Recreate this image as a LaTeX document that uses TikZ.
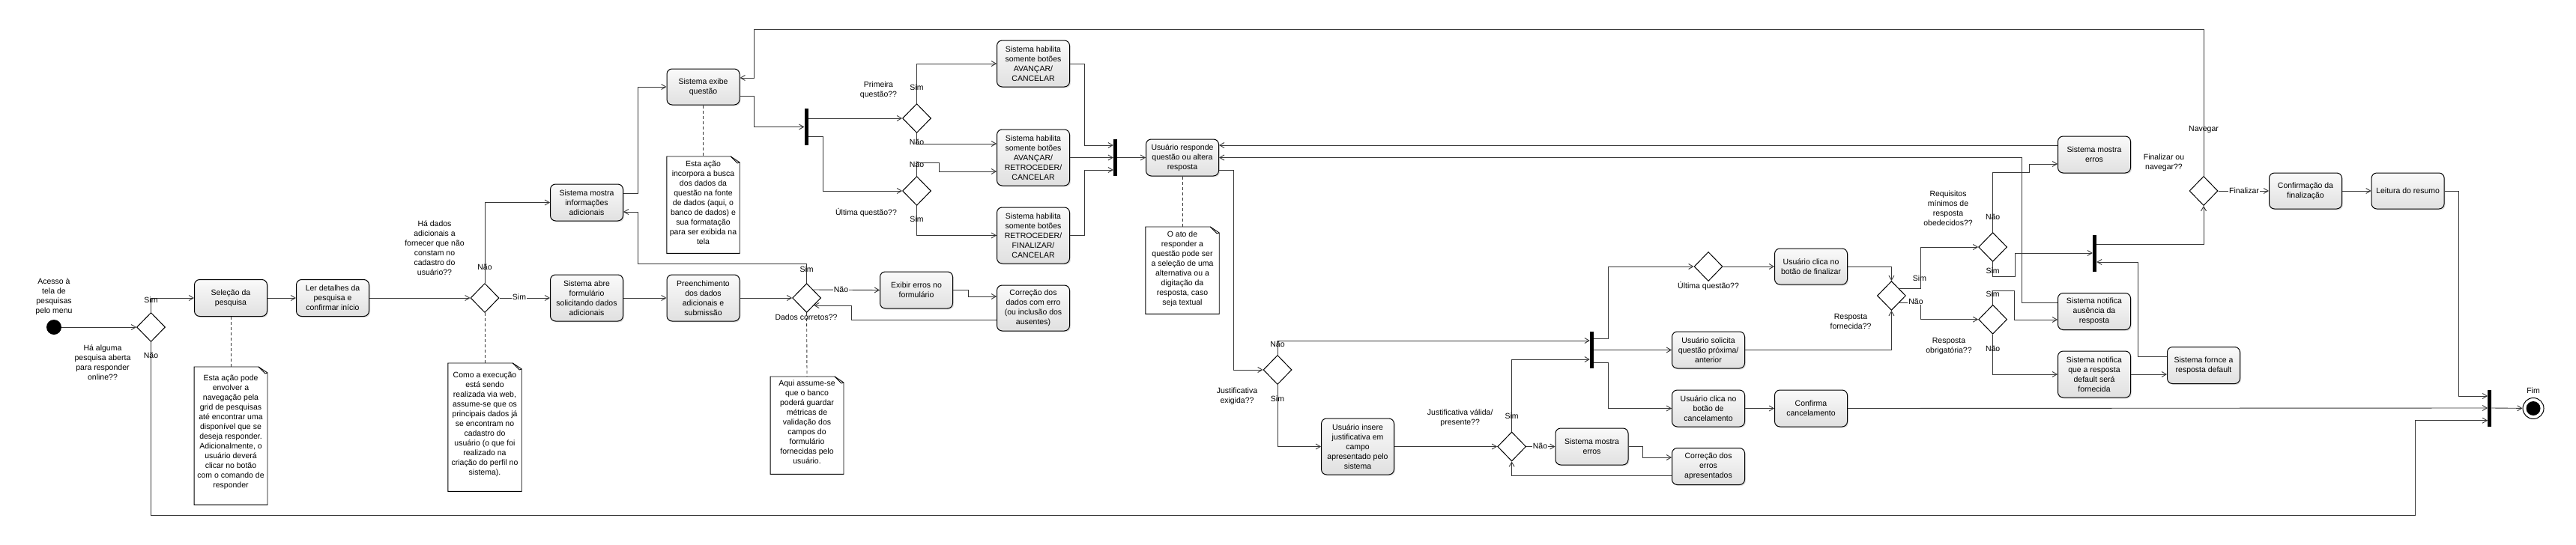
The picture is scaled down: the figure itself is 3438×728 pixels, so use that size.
\documentclass[tikz,border=0pt]{standalone}
\usepackage{fontspec}
\setmainfont{Liberation Sans}
\usetikzlibrary{arrows.meta,shapes.geometric,shadows,calc}
\definecolor{linec}{RGB}{55,55,55}
\newcommand{\mknote}[7]{%
  \node[minimum width=#4pt, minimum height=#5pt, inner sep=0pt, anchor=north] (#1) at (#2,#3) {};
  \draw[line width=0.9pt, fill=white] (#1.south west) -- (#1.north west) -- ([xshift=-12pt]#1.north east) -- ([yshift=-8pt]#1.north east) -- (#1.south east) -- cycle;
  \draw[line width=0.8pt] ([xshift=-12pt]#1.north east) -- ([xshift=-3pt,yshift=-9pt]#1.north east) -- ([yshift=-8pt]#1.north east);
  \node[anchor=north, inner sep=0pt, align=center] (#1txt) at ([yshift=-#6pt]#1.north) {#7};
}
\begin{document}
\begin{tikzpicture}[x=1pt,y=-1pt,
  every node/.style={font=\fontsize{10.5}{13}\selectfont},
  act/.style={draw=black, line width=1pt, rounded corners=7pt, top color=gray!4, bottom color=gray!24,
    drop shadow={shadow xshift=1.5pt, shadow yshift=-1.5pt, opacity=0.25},
    align=center, minimum width=97pt, minimum height=49pt, inner sep=2pt},
  dec/.style={diamond, draw=black, line width=1pt, fill=white, minimum width=38pt, minimum height=39pt, inner sep=0pt},
  bar/.style={rectangle, fill=black, draw=none, minimum width=5pt, minimum height=49pt, inner sep=0pt},
  lbl/.style={inner sep=0pt, align=center},
  arr/.style={draw=linec, line width=0.9pt, -{Straight Barb[length=6pt,width=7pt]}},
  dsh/.style={draw=linec, line width=0.9pt, dash pattern=on 4pt off 3pt},
  startdot/.style={circle, fill=black, draw=none, minimum size=20pt, inner sep=0pt}
]
\fill[white] (0,0) rectangle (3438,728);
\useasboundingbox (0,0) rectangle (3438,728);

% ---- start
\node[startdot] (start) at (72,437) {};
\node[lbl] (tstart) at (72,396) {Acesso à\\tela de\\pesquisas\\pelo menu};

% ---- decisions
\node[dec] (D1) at (201.5,437) {};
\node[dec] (D2) at (647,398) {};
\node[dec] (D3) at (1076.6,398) {};
\node[dec] (D4) at (1223.5,158) {};
\node[dec] (D5) at (1223.5,255) {};
\node[dec] (D6) at (1705,494) {};
\node[dec] (D7) at (2017.6,596.5) {};
\node[dec] (D8) at (2280,356) {};
\node[dec] (D9) at (2524.4,395) {};
\node[dec] (D10) at (2659.6,330) {};
\node[dec] (D11) at (2659.6,426.7) {};
\node[dec] (D12) at (2941,255) {};

% ---- bars
\node[bar] (fork1) at (1076,169.5) {};
\node[bar] (join1) at (1488.5,210.5) {};
\node[bar] (fork2) at (2124.5,467.5) {};
\node[bar] (fork3) at (2795.5,338) {};
\node[bar] (join2) at (3322.7,545) {};

% ---- actions
\node[act] (selecao) at (308,398) {Seleção da\\pesquisa};
\node[act] (ler) at (444,398) {Ler detalhes da\\pesquisa e\\confirmar início};
\node[act] (infos) at (783,270.5) {Sistema mostra\\informações\\adicionais};
\node[act, minimum height=62pt] (abre) at (783,398) {Sistema abre\\formulário\\solicitando dados\\adicionais};
\node[act, minimum height=62pt] (preench) at (938.5,398) {Preenchimento\\dos dados\\adicionais e\\submissão};
\node[act, minimum height=48pt] (exibe) at (938.5,116) {Sistema exibe\\questão};
\node[act] (erros1) at (1223,387.5) {Exibir erros no\\formulário};
\node[act, minimum height=61pt] (corrdados) at (1379,411.5) {Correção dos\\dados com erro\\(ou inclusão dos\\ausentes)};
\node[act, minimum height=62pt] (hab1) at (1379,85) {Sistema habilita\\somente botões\\AVANÇAR/\\CANCELAR};
\node[act, minimum height=75pt] (hab2) at (1379,210.5) {Sistema habilita\\somente botões\\AVANÇAR/\\RETROCEDER/\\CANCELAR};
\node[act, minimum height=75pt] (hab3) at (1379,314.5) {Sistema habilita\\somente botões\\RETROCEDER/\\FINALIZAR/\\CANCELAR};
\node[act] (resp) at (1578,210.5) {Usuário responde\\questão ou altera\\resposta};
\node[act, minimum height=75pt] (insere) at (1812,596.5) {Usuário insere\\justificativa em\\campo\\apresentado pelo\\sistema};
\node[act] (erros2) at (2124.5,596.5) {Sistema mostra\\erros};
\node[act] (corrErros) at (2280,623) {Correção dos\\erros\\apresentados};
\node[act, minimum height=48pt] (clicafin) at (2417,356) {Usuário clica no\\botão de finalizar};
\node[act] (solicita) at (2280,467.5) {Usuário solicita\\questão próxima/\\anterior};
\node[act] (clicacanc) at (2280,545.5) {Usuário clica no\\botão de\\cancelamento};
\node[act] (confcanc) at (2417,545.5) {Confirma\\cancelamento};
\node[act] (erros3) at (2795,206.5) {Sistema mostra\\erros};
\node[act] (ausencia) at (2795,416) {Sistema notifica\\ausência da\\resposta};
\node[act, minimum height=62pt] (dflt) at (2795,500) {Sistema notifica\\que a resposta\\default será\\fornecida};
\node[act] (fornce) at (2941,488) {Sistema fornce a\\resposta default};
\node[act, minimum height=48pt] (confin) at (3077,255) {Confirmação da\\finalização};
\node[act, minimum height=48pt] (leitura) at (3213.6,255) {Leitura do resumo};

% ---- end
\node[circle, draw=black, line width=1pt, fill=white, minimum size=28pt, inner sep=0pt] (fim) at (3381,545.5) {};
\node[circle, fill=black, minimum size=19pt, inner sep=0pt] (fimdot) at (fim) {};
\node[lbl] (tfim) at (3381,521.7) {Fim};

% ---- notes
\mknote{note1}{308}{490}{97.5}{184}{11}{Esta ação pode\\envolver a\\navegação pela\\grid de pesquisas\\até encontrar uma\\disponível que se\\deseja responder.\\Adicionalmente, o\\usuário deverá\\clicar no botão\\com o comando de\\responder}
\mknote{nexibe}{938.5}{209}{97}{129}{5.7}{Esta ação\\incorpora a busca\\dos dados da\\questão na fonte\\de dados (aqui, o\\banco de dados) e\\sua formatação\\para ser exibida na\\tela}
\mknote{note2}{647}{485}{98}{171}{12}{Como a execução\\está sendo\\realizada via web,\\assume-se que os\\principais dados já\\se encontram no\\cadastro do\\usuário (o que foi\\realizado na\\criação do perfil no\\sistema).}
\mknote{note3}{1077}{503}{97.5}{130}{5}{Aqui assume-se\\que o banco\\poderá guardar\\métricas de\\validação dos\\campos do\\formulário\\fornecidas pelo\\usuário.}
\mknote{nresp}{1578}{303}{98}{116}{5.7}{O ato de\\responder a\\questão pode ser\\a seleção de uma\\alternativa ou a\\digitação da\\resposta, caso\\seja textual}

% ---- question texts
\node[lbl] (qD1) at (137,484.5) {Há alguma\\pesquisa aberta\\para responder\\online??};
\node[lbl] (qD2) at (580,331) {Há dados\\adicionais a\\fornecer que não\\constam no\\cadastro do\\usuário??};
\node[lbl] (qD3) at (1076,424) {Dados corretos??};
\node[lbl] (qD4) at (1172.5,120) {Primeira\\questão??};
\node[lbl] (qD5) at (1156,284) {Última questão??};
\node[lbl] (qD6) at (1651,529.5) {Justificativa\\exigida??};
\node[lbl] (qD7) at (1948.7,558.5) {Justificativa válida/\\presente??};
\node[lbl] (qD8) at (2280,381.7) {Última questão??};
\node[lbl] (qD9) at (2470,429) {Resposta\\fornecida??};
\node[lbl] (qD10) at (2600,278) {Requisitos\\mínimos de\\resposta\\obedecidos??};
\node[lbl] (qD11) at (2601,462) {Resposta\\obrigatória??};
\node[lbl] (qD12) at (2888,217) {Finalizar ou\\navegar??};

% ---- connectors
\draw[arr] (start) -- (D1.west);
\draw[arr] (D1.north) |- (selecao.west);
\draw[arr] (D1.south) |- (3223,688) |- ([yshift=-16.7pt]join2.west);
\draw[arr] (selecao.east) -- (ler.west);
\draw[arr] (ler.east) -- (D2.west);
\draw[arr] (D2.north) |- (infos.west);
\draw[arr] (D2.east) -- (abre.west);
\draw[arr] (abre.east) -- (preench.west);
\draw[arr] (preench.east) -- (D3.west);
\draw[arr] (D3.north) |- (851.5,352) |- ([yshift=-12.5pt]infos.east);
\draw[arr] ([yshift=12.5pt]infos.east) -- (851.5,258) |- (exibe.west);
\draw[arr] ($(D3.east)!0.55!(D3.north)$) -- (erros1.west);
\draw[arr] (erros1.east) -- (1292,387.5) |- ([yshift=15.5pt]corrdados.west);
\draw[arr] ([yshift=-15.5pt]corrdados.west) -- (1136,427) |- ($(D3.east)!0.5!(D3.south)$);
\draw[arr] ([yshift=-12pt]exibe.east) -- (1006.5,128) |- (fork1.west);
\draw[arr] ([yshift=11.5pt]fork1.east) -- (D4.west);
\draw[arr] ([yshift=-12.5pt]fork1.east) -- (1098.5,182) |- (D5.west);
\draw[arr] (D4.north) |- (hab1.west);
\draw[arr] (D4.south) |- ([yshift=18.5pt]hab2.west);
\draw[arr] (D5.north) |- (1253,217) |- ([yshift=-18.5pt]hab2.west);
\draw[arr] (D5.south) |- (hab3.west);
\draw[arr] (hab1.east) -- (1447,85) |- ([yshift=16.5pt]join1.west);
\draw[arr] (hab2.east) -- (join1.west);
\draw[arr] (hab3.east) -- (1447,314.5) |- ([yshift=-16.5pt]join1.west);
\draw[arr] (join1.east) -- (resp.west);
\draw[arr] ([yshift=-16.5pt]resp.east) -- (1646,227) |- (D6.west);
\draw[arr] (D6.north) |- ([yshift=12.5pt]fork2.west);
\draw[arr] (D6.south) |- (insere.west);
\draw[arr] (insere.east) -- (D7.west);
\draw[arr] (D7.north) |- ([yshift=-12.5pt]fork2.west);
\draw[arr] (D7.east) -- (erros2.west);
\draw[arr] (erros2.east) -- (2192.7,596.5) |- ([yshift=12pt]corrErros.west);
\draw[arr] ([yshift=-12pt]corrErros.west) -| (D7.south);
\draw[arr] ([yshift=15.5pt]fork2.east) -- (2146.7,452) |- (D8.west);
\draw[arr] (fork2.east) -- (solicita.west);
\draw[arr] ([yshift=-16.5pt]fork2.east) -- (2146.7,484) |- (clicacanc.west);
\draw[arr] (D8.east) -- (clicafin.west);
\draw[arr] (clicafin.east) -| (D9.north);
\draw[arr] (solicita.east) -| (D9.south);
\draw[arr] ($(D9.east)!0.5!(D9.north)$) -| (2563,330) -- (D10.west);
\draw[arr] ($(D9.east)!0.45!(D9.south)$) -| (2563,426.7) -- (D11.west);
\draw[arr] (D10.north) |- (2708,230) |- ([yshift=-12.5pt]erros3.west);
\draw[arr] (D10.south) |- (2689,369) |- (fork3.west);
\draw[arr] (D11.north) |- (2688,388) |- ([yshift=-11pt]ausencia.west);
\draw[arr] (D11.south) |- (dflt.west);
\draw[arr] ([yshift=12.5pt]erros3.west) -- ([yshift=16.5pt]resp.east);
\draw[arr] ([yshift=12pt]ausencia.west) -- (2698,404) |- (resp.east);
\draw[arr] (dflt.east) -- ([yshift=-12pt]fornce.west);
\draw[arr] ([yshift=12pt]fornce.west) -- (2853.5,476) |- ([yshift=-12pt]fork3.east);
\draw[arr] ([yshift=12pt]fork3.east) -| (D12.south);
\draw[arr] (D12.north) |- (1006.5,39) |- ([yshift=12pt]exibe.east);
\draw[arr] (D12.east) -- (confin.west);
\draw[arr] (confin.east) -- (leitura.west);
\draw[arr] (leitura.east) -- (3281,255) |- ([yshift=16pt]join2.west);
\draw[arr] (clicacanc.east) -- (confcanc.west);
\draw[arr] (confcanc.east) -- (join2.west);
\draw[arr] (join2.east) -- (fim);

% ---- dashed links to notes
\draw[dsh] (selecao.south) -- (note1.north);
\draw[dsh] (D2.south) -- (note2.north);
\draw[dsh] (exibe.south) -- (nexibe.north);
\draw[dsh] (D3.south) -- (note3.north);
\draw[dsh] (resp.south) -- (nresp.north);

% ---- guard labels
\node[lbl] (sD1) at (201.5,401) {Sim};
\node[lbl] (nD1) at (201.5,475) {Não};
\node[lbl] (nD2) at (647,357) {Não};
\node[lbl, fill=white, inner xsep=1pt] (sD2) at (693,397) {Sim};
\node[lbl] (sD3) at (1076.6,360) {Sim};
\node[lbl, fill=white, inner xsep=1pt] (nD3) at (1122.5,387) {Não};
\node[lbl] (sD4) at (1223.5,117) {Sim};
\node[lbl] (nD4) at (1223.5,190) {Não};
\node[lbl] (nD5) at (1223.5,220) {Não};
\node[lbl] (sD5) at (1223.5,293) {Sim};
\node[lbl] (nD6) at (1705,460) {Não};
\node[lbl] (sD6) at (1705,533) {Sim};
\node[lbl] (sD7) at (2017.6,556) {Sim};
\node[lbl, fill=white, inner xsep=1pt] (nD7) at (2055.5,596) {Não};
\node[lbl] (sD9) at (2562,371.7) {Sim};
\node[lbl, fill=white, inner xsep=1pt] (nD9) at (2557,403) {Não};
\node[lbl] (nD10) at (2659.6,290) {Não};
\node[lbl] (sD10) at (2659.6,362) {Sim};
\node[lbl] (sD11) at (2659.6,393) {Sim};
\node[lbl] (nD11) at (2659.6,466) {Não};
\node[lbl] (navD12) at (2941,173) {Navegar};
\node[lbl, fill=white, inner xsep=1pt] (finD12) at (2995,255) {Finalizar};
\end{tikzpicture}
\end{document}
